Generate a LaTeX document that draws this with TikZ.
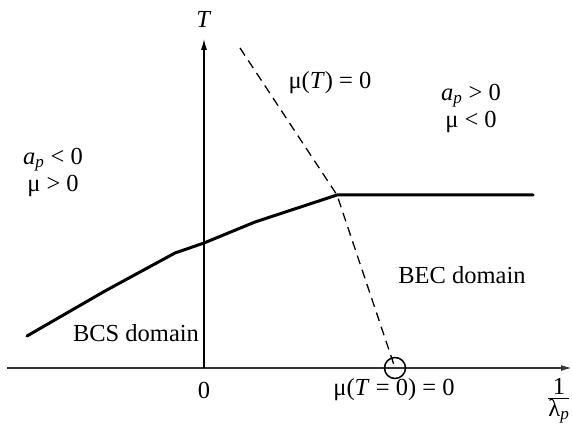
\documentclass[tikz,border=0pt]{standalone}
\usepackage{fontspec}
\setmainfont{Liberation Serif}
\usetikzlibrary{arrows.meta}
\begin{document}
\begin{tikzpicture}[x=1pt,y=-1pt,
  lbl/.style={font=\fontsize{24.5}{29}\selectfont, inner sep=0pt, align=center},
  axis/.style={line width=1.6pt, -{Latex[length=11pt,width=6pt]}},
  curve/.style={line width=3pt, line cap=round, line join=round},
  dashline/.style={line width=1.3pt, dash pattern=on 9pt off 6pt},
  zcirc/.style={circle, draw, line width=1.5pt, minimum size=21pt, inner sep=0pt}]
\useasboundingbox (0,0) rectangle (572,438);
% axes
\coordinate (xs) at (7,368);
\coordinate (xe) at (572,368);
\coordinate (O) at (204,368);
\coordinate (yt) at (204,39);
\draw[axis, draw=black!80] (xs) -- (xe);
\draw[axis, line width=1.1pt] (O) -- (yt);
% critical temperature curve
\coordinate (c1) at (27,336);
\coordinate (c2) at (105,291);
\coordinate (c3) at (175,253);
\coordinate (c4) at (204,243);
\coordinate (c5) at (255,222);
\coordinate (c6) at (337,195);
\coordinate (c7) at (533,195);
\draw[curve] (c1) -- (c2) -- (c3) -- (c4) -- (c5) -- (c6) -- (c7);
% mu = 0 line
\coordinate (d1) at (240,48);
\node[zcirc] (zc) at (395,368) {};
\draw[dashline] (d1) -- (c6) -- (zc.center);
% labels
\node[lbl] (Tlab) at (204,19) {\textit{T}};
\node[lbl] (neg) at (53,172) {\textit{a}\textsubscript{\textit{p}} < 0\\[-2pt]μ > 0};
\node[lbl] (pos) at (471,108) {\textit{a}\textsubscript{\textit{p}} > 0\\[-2pt]μ < 0};
\node[lbl] (muT) at (330,83) {μ(\textit{T}) = 0};
\node[lbl] (bec) at (462,275) {BEC domain};
\node[lbl] (bcs) at (136,333) {BCS domain};
\node[lbl] (zero) at (204,390) {0};
\node[lbl] (muT0) at (394,390) {μ(\textit{T} = 0) = 0};
\node[lbl, anchor=west] (frac) at (547,401) {$\frac{\hbox{1}}{\hbox{λ\textsubscript{\textit{p}}}}$};
\end{tikzpicture}
\end{document}
